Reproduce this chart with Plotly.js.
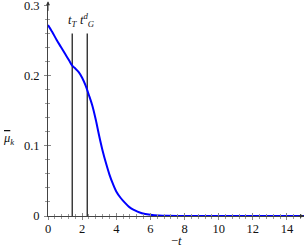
<!DOCTYPE html>
<html><head><meta charset="utf-8">
<script src="https://cdn.plot.ly/plotly-3.0.1.min.js"></script>
<style>html,body{margin:0;padding:0;background:#fff}#c{width:304px;height:250px}</style>
</head><body><div id="c"></div>
<script>
const tVals = [0, 0.25, 0.5, 0.75, 1.0, 1.25, 1.42, 1.6, 1.8, 2.0, 2.2, 2.4, 2.6, 2.8, 3.0, 3.2, 3.4, 3.6, 3.8, 4.0, 4.25, 4.5, 4.75, 5.0, 5.5, 6.0, 6.5, 7, 8, 10, 12, 14, 15];
const muVals = [0.272, 0.262, 0.251, 0.241, 0.231, 0.221, 0.214, 0.210, 0.205, 0.197, 0.186, 0.172, 0.157, 0.137, 0.114, 0.093, 0.075, 0.059, 0.046, 0.035, 0.026, 0.019, 0.013, 0.009, 0.004, 0.0018, 0.0007, 0.0003, 0.0001, 0, 0, 0, 0];
const tT = 1.42, tG = 2.3, vTop = 0.26;
const xTicks = [0, 2, 4, 6, 8, 10, 12, 14];
const yTicks = [0, 0.1, 0.2, 0.3];
const yTickText = ['0', '0.1', '0.2', '0.3'];

const font = {family: 'Liberation Serif', size: 12.5, color: '#111'};
const traces = [
  {x: [tT, tT], y: [0, vTop], mode: 'lines', line: {color: '#222', width: 1.3}, hoverinfo: 'none'},
  {x: [tG, tG], y: [0, vTop], mode: 'lines', line: {color: '#222', width: 1.3}, hoverinfo: 'none'},
  {x: tVals, y: muVals, mode: 'lines', line: {color: '#0000ff', width: 2, shape: 'spline', smoothing: 0.8}, hoverinfo: 'none'},
  {x: [0], y: [0], xaxis: 'x2', yaxis: 'y2', mode: 'markers', marker: {opacity: 0}, hoverinfo: 'none'}
];
const axCommon = {showgrid: false, zeroline: false, showline: true, linecolor: '#444', linewidth: 1, tickcolor: '#888', fixedrange: true, tickfont: font, ticklabeloverflow: 'allow'};
const yMax = 0.3005;
const layout = {
  width: 304, height: 250, showlegend: false,
  margin: {l: 48, r: 0, t: 5, b: 34},
  paper_bgcolor: '#fff', plot_bgcolor: '#fff', font: font,
  xaxis: Object.assign({}, axCommon, {range: [0, 15], tickvals: xTicks, ticktext: xTicks.map(String), ticks: 'inside', ticklen: 3,
    minor: {dtick: 0.4, tick0: 0, ticks: 'inside', ticklen: 2, tickcolor: '#999', showgrid: false}, ticklabelstandoff: 1}),
  yaxis: Object.assign({}, axCommon, {range: [0, yMax], tickvals: yTicks, ticktext: yTickText, ticks: 'inside', ticklen: 3,
    minor: {dtick: 0.02, tick0: 0, ticks: 'inside', ticklen: 2, tickcolor: '#999', showgrid: false}, ticklabelstandoff: 5}),
  xaxis2: Object.assign({}, axCommon, {overlaying: 'x', matches: 'x', range: [0, 15], anchor: 'y2', side: 'bottom', tickvals: xTicks, showticklabels: false, ticks: 'outside', ticklen: 3,
    minor: {dtick: 0.4, tick0: 0, ticks: 'outside', ticklen: 2, tickcolor: '#999', showgrid: false}}),
  yaxis2: Object.assign({}, axCommon, {overlaying: 'y', range: [0, yMax], anchor: 'x2', side: 'left', tickvals: yTicks, showticklabels: false, ticks: 'outside', ticklen: 3,
    minor: {dtick: 0.02, tick0: 0, ticks: 'outside', ticklen: 2, tickcolor: '#999', showgrid: false}}),
  annotations: [
    {x: 15, y: 0, ax: 14.6, ay: 0, xref: 'x', yref: 'y', axref: 'x', ayref: 'y', showarrow: true, arrowhead: 2, arrowsize: 0.8, arrowwidth: 1, arrowcolor: '#333', text: ''},
    {x: 0, y: 0.306, ax: 0, ay: 0.29, xref: 'x', yref: 'y', axref: 'x', ayref: 'y', showarrow: true, arrowhead: 2, arrowsize: 0.8, arrowwidth: 1, arrowcolor: '#333', text: ''},
    {x: 7.5, y: 0, xref: 'x', yref: 'y', yshift: -25, showarrow: false, text: '−<i>t</i>', font: font},
    {x: 0, y: 0.109, xref: 'paper', yref: 'y', xanchor: 'left', xshift: -47, showarrow: false, text: '<i><span style="text-decoration:overline">μ</span></i><sub><i>k</i></sub>', font: font},
    {x: tT, y: vTop, xref: 'x', yref: 'y', yanchor: 'bottom', yshift: 2, showarrow: false, text: '<i>t</i><sub><i>T</i></sub>', font: font},
    {x: tG, y: vTop, xref: 'x', yref: 'y', yanchor: 'bottom', yshift: 2, showarrow: false, text: '<i>t</i><sup><i>d</i></sup><sub><i>G</i></sub>', font: font}
  ]
};
Plotly.newPlot('c', traces, layout, {staticPlot: true, displayModeBar: false});
</script></body></html>
